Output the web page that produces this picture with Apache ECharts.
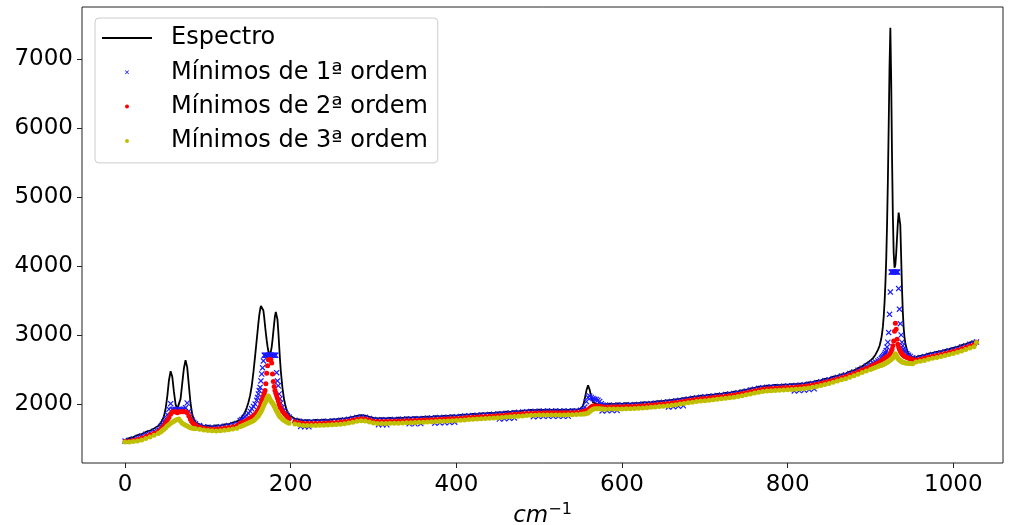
<!DOCTYPE html>
<html>
<head>
<meta charset="utf-8">
<script src="https://cdn.jsdelivr.net/npm/echarts@6/dist/echarts.min.js"></script>
<style>
  html, body { margin: 0; padding: 0; background: #ffffff; }
  #chart { width: 1014px; height: 525px; }
</style>
</head>
<body>
<div id="chart"></div>
<script>
// Wavenumber positions (cm^-1) shared by the spectrum and the three minima traces
const waveNumbers = [
  0,5,10,15,20,25,30,35,40,
  43,45,47,49,51,53,55,57,59,61,63,65,67,69,71,73,75,77,79,81,83,85,
  90,95,100,105,110,115,120,125,130,135,
  139,141,143,145,147,149,151,153,155,157,159,
  160,161,162,163,164,165,166,167,168,169,170,171,172,173,174,175,176,177,178,179,180,181,182,183,184,185,186,187,188,
  190,192,194,196,198,
  205,210,215,220,225,230,235,240,245,250,
  255,260,265,270,275,280,285,290,295,300,
  305,310,315,320,325,330,335,340,345,350,
  355,360,365,370,375,380,385,390,395,400,
  405,410,415,420,425,430,435,440,445,450,
  455,460,465,470,475,480,485,490,495,500,
  505,510,515,520,525,530,535,540,545,550,
  553,555,557,559,561,563,565,567,569,571,573,575,577,
  580,585,590,595,600,605,610,615,620,625,
  630,635,640,645,650,655,660,665,670,675,
  680,685,690,695,700,705,710,715,720,725,
  730,735,740,745,750,755,760,765,770,775,
  780,785,790,795,800,805,810,815,820,825,
  830,835,840,845,850,855,860,865,870,875,
  880,885,890,895,900,
  903,906,909,911,
  913,914,915,916,917,918,919,920,921,922,
  923,924,925,926,927,928,929,930,931,932,
  933,934,935,936,937,938,939,940,941,942,
  944,946,948,951,
  955,960,965,970,975,980,985,990,995,1000,1005,1010,1015,1020,1025,1028
];

// Measured spectrum intensity
const spectrum = [
  1485,1510,1525,1555,1570,1600,1618,1650,1685,
  1730,1770,1830,1940,2120,2350,2480,2400,2180,2000,1935,1960,2080,2300,2520,2640,2540,2280,2020,1860,1780,1740,
  1712,1688,1690,1680,1695,1692,1710,1712,1735,1752,
  1785,1812,1848,1893,1955,2030,2130,2270,2470,2700,2940,
  3060,3180,3290,3370,3425,3445,3420,3360,3260,3140,3030,2930,2840,2770,2735,2730,2765,2830,2930,3050,3170,3280,3340,3330,3230,3060,2860,2660,2490,
  2240,2070,1960,1890,1845,
  1790,1782,1768,1772,1765,1774,1770,1778,1772,1783,
  1786,1792,1797,1808,1820,1834,1842,1836,1818,1805,
  1796,1800,1795,1803,1798,1808,1804,1812,1808,1814,
  1810,1818,1822,1820,1830,1826,1834,1832,1840,1838,
  1848,1852,1850,1862,1858,1870,1868,1876,1872,1884,
  1882,1893,1890,1902,1898,1910,1912,1918,1915,1922,
  1918,1925,1920,1924,1918,1923,1920,1926,1924,1940,
  1980,2080,2200,2275,2210,2090,2030,2010,2005,2000,2003,1998,2002,
  2002,2010,2004,2013,2007,2016,2009,2019,2018,2027,
  2029,2031,2038,2045,2050,2058,2063,2071,2078,2091,
  2098,2108,2115,2125,2128,2138,2139,2151,2153,2165,
  2168,2183,2188,2204,2212,2232,2240,2258,2260,2273,
  2270,2281,2278,2287,2286,2293,2293,2301,2303,2318,
  2323,2341,2348,2368,2378,2401,2412,2436,2447,2476,
  2492,2526,2552,2594,2635,
  2670,2720,2790,2850,
  2950,3030,3130,3280,3480,3750,4100,4600,5250,6050,
  6900,7460,6700,5600,4750,4200,3980,4020,4180,4400,
  4620,4780,4800,4600,4150,3700,3350,3120,2980,2890,
  2790,2740,2710,2680,
  2685,2702,2712,2735,2748,2762,2770,2788,2800,2818,2835,2858,2875,2900,2912,2930
];

// First-order minima
const minima1 = [
  1468,1480,1498,1520,1542,1565,1588,1612,1640,
  1680,1710,1745,1790,1850,1930,2010,1925,1925,1925,1925,1925,1925,1925,1930,1950,2020,1900,1820,1770,1740,1720,
  1695,1675,1668,1665,1668,1675,1683,1692,1705,1722,
  1765,1780,1800,1820,1845,1870,1900,1935,1970,2005,2060,
  2100,2150,2200,2245,2340,2440,2530,2630,2712,2712,2712,2712,2712,2712,2712,2712,2712,2712,2712,2712,2712,2712,2712,2460,2340,2270,2150,2080,2020,
  1960,1910,1870,1840,1815,
  1770,1755,1748,1746,1746,1748,1750,1752,1755,1758,
  1763,1768,1775,1785,1798,1810,1818,1812,1795,1780,
  1776,1776,1777,1779,1780,1782,1784,1786,1788,1790,
  1793,1796,1799,1802,1805,1808,1811,1814,1817,1820,
  1825,1830,1834,1838,1842,1846,1850,1854,1857,1861,
  1865,1870,1875,1880,1884,1888,1892,1896,1898,1900,
  1901,1902,1902,1902,1902,1902,1903,1905,1908,1915,
  1925,1960,2040,2100,2120,2100,2085,2075,2070,2060,2040,2010,1990,
  1985,1986,1987,1988,1989,1991,1993,1996,1999,2003,
  2007,2012,2017,2023,2029,2036,2043,2050,2059,2068,
  2078,2087,2096,2103,2109,2115,2121,2128,2135,2142,
  2150,2159,2169,2180,2193,2207,2220,2232,2241,2248,
  2253,2257,2260,2263,2266,2269,2273,2278,2284,2293,
  2303,2315,2328,2342,2357,2374,2392,2410,2428,2448,
  2470,2495,2525,2555,2585,
  2600,2615,2630,2648,
  2665,2678,2690,2705,2725,2750,2780,2830,2900,3040,
  3305,3627,3918,3918,3918,3918,3918,3918,3918,3918,
  3918,3678,3380,3170,3005,2900,2848,2800,2775,2755,
  2730,2712,2695,2675,
  2668,2680,2692,2708,2722,2735,2748,2762,2776,2792,2810,2830,2850,2872,2890,2905
];

// Isolated first-order minima lying below the main band
const minima1LowX = [212,217,222,306,311,316,343,350,357,374,380,386,392,398,452,458,464,470,
  493,499,505,511,517,523,529,535,576,582,588,594,656,662,668,674,808,814,820,826,832];
const minima1LowY = [1680,1676,1674,1705,1704,1704,1718,1718,1722,1728,1732,1735,1738,1742,1788,1792,1798,1803,
  1822,1825,1826,1827,1827,1827,1827,1828,1905,1908,1910,1912,1960,1966,1974,1980,2195,2200,2206,2214,2225];

// Second-order minima
const minima2 = [
  1460,1465,1475,1492,1512,1535,1558,1582,1608,
  1635,1660,1690,1725,1765,1810,1855,1890,1893,1893,1880,1893,1893,1893,1893,1893,1880,1830,1780,1740,1715,1700,
  1672,1655,1645,1640,1642,1648,1656,1665,1676,1692,
  1725,1735,1745,1757,1770,1785,1800,1815,1830,1858,1885,
  1900,1920,1940,1960,2005,2050,2085,2120,2160,2200,2300,2450,2560,2645,2645,2645,2645,2600,2440,2330,2260,2200,2160,2125,2090,2050,2000,1960,1940,
  1900,1870,1845,1815,1790,
  1748,1733,1725,1722,1722,1724,1726,1728,1731,1734,
  1738,1743,1750,1760,1772,1785,1793,1788,1772,1757,
  1752,1752,1753,1755,1756,1758,1760,1762,1764,1766,
  1769,1772,1775,1778,1781,1784,1787,1790,1793,1796,
  1800,1805,1809,1813,1817,1821,1825,1829,1832,1836,
  1840,1845,1850,1855,1859,1863,1867,1871,1873,1875,
  1876,1877,1877,1877,1877,1877,1878,1880,1883,1888,
  1895,1900,1910,1925,1945,1965,1975,1975,1975,1970,1968,1965,1963,
  1962,1963,1964,1965,1966,1968,1970,1973,1976,1980,
  1984,1989,1994,2000,2006,2013,2020,2027,2036,2045,
  2055,2064,2073,2080,2086,2092,2098,2105,2112,2119,
  2127,2136,2146,2157,2170,2184,2197,2209,2218,2225,
  2230,2234,2237,2240,2243,2246,2250,2255,2261,2270,
  2280,2292,2305,2319,2334,2351,2369,2387,2405,2425,
  2447,2472,2500,2525,2550,
  2568,2585,2600,2615,
  2630,2638,2645,2655,2665,2675,2685,2692,2698,2705,
  2720,2740,2765,2800,2850,2920,3060,3175,3090,2945,
  2870,2830,2800,2775,2752,2735,2720,2708,2698,2690,
  2678,2668,2660,2650,
  2643,2655,2667,2683,2697,2710,2723,2737,2751,2767,2785,2805,2825,2847,2865,2900
];

// Third-order minima
const minima3 = [
  1455,1455,1460,1470,1485,1505,1528,1552,1578,
  1600,1620,1640,1662,1685,1705,1725,1742,1755,1768,1782,1788,1755,1728,1712,1698,1685,1672,1662,1655,1650,1646,
  1640,1630,1622,1616,1615,1618,1625,1633,1643,1655,
  1680,1688,1697,1707,1718,1730,1742,1753,1763,1785,1808,
  1820,1835,1855,1875,1898,1920,1945,1975,2000,2025,2050,2080,2105,2122,2100,2075,2050,2035,2020,2002,1975,1950,1925,1905,1882,1860,1840,1822,1808,
  1785,1765,1750,1738,1728,
  1715,1703,1695,1692,1692,1694,1696,1698,1701,1704,
  1708,1713,1720,1730,1742,1754,1762,1758,1745,1730,
  1724,1722,1723,1725,1726,1728,1730,1732,1734,1736,
  1739,1742,1745,1748,1751,1754,1757,1760,1763,1766,
  1770,1775,1779,1783,1787,1791,1795,1799,1802,1806,
  1810,1815,1820,1825,1829,1833,1837,1841,1843,1845,
  1846,1847,1847,1847,1847,1847,1848,1850,1852,1856,
  1860,1862,1866,1875,1895,1915,1930,1935,1935,1935,1935,1934,1933,
  1930,1931,1932,1933,1934,1936,1938,1941,1944,1948,
  1952,1957,1962,1968,1974,1981,1988,1995,2004,2013,
  2023,2032,2041,2048,2054,2060,2066,2073,2080,2087,
  2095,2104,2114,2125,2138,2152,2165,2177,2186,2193,
  2198,2202,2205,2208,2211,2214,2218,2223,2229,2238,
  2248,2260,2273,2287,2302,2319,2337,2355,2373,2393,
  2415,2438,2462,2485,2505,
  2520,2535,2550,2558,
  2567,2572,2577,2583,2589,2595,2602,2609,2617,2625,
  2634,2643,2653,2664,2677,2692,2710,2732,2715,2690,
  2670,2655,2643,2633,2625,2618,2612,2607,2603,2600,
  2596,2593,2591,2590,
  2613,2625,2637,2653,2667,2680,2693,2707,2721,2737,2755,2775,2795,2817,2835,2895
];

const xTicks = [0, 200, 400, 600, 800, 1000];
const yTicks = [2000, 3000, 4000, 5000, 6000, 7000];

const seriesNames = ['Espectro', 'Mínimos de 1ª ordem', 'Mínimos de 2ª ordem', 'Mínimos de 3ª ordem'];

function pairs(xs, ys) {
  return xs.map(function (x, i) { return [x, ys[i]]; });
}

const FONT = 'DejaVu Sans';
const CROSS = 'path://M0,1.4L1.4,0L5,3.6L8.6,0L10,1.4L6.4,5L10,8.6L8.6,10L5,6.4L1.4,10L0,8.6L3.6,5Z';
const plainNumber = function (v) { return String(Math.round(v)); };

const chart = echarts.init(document.getElementById('chart'), null, { renderer: 'canvas' });

chart.setOption({
  animation: false,
  backgroundColor: '#ffffff',
  textStyle: { fontFamily: FONT },
  grid: {
    left: 82, right: 11, top: 7, bottom: 62,
    show: true, borderColor: '#222', borderWidth: 1,
    outerBoundsMode: 'none'
  },
  xAxis: {
    type: 'value', min: -52, max: 1060,
    axisLine: { show: false, onZero: false },
    splitLine: { show: false },
    axisTick: { show: true, length: 5, customValues: xTicks, lineStyle: { color: '#222' } },
    axisLabel: { customValues: xTicks, formatter: plainNumber, fontSize: 23, color: '#000', margin: 11, fontFamily: FONT },
    name: '{it|cm}{sup|−1}',
    nameLocation: 'middle',
    nameGap: 32,
    nameTextStyle: {
      color: '#000',
      rich: {
        it: { fontSize: 23, fontStyle: 'italic', fontFamily: FONT, color: '#000', lineHeight: 28 },
        sup: { fontSize: 16, fontFamily: FONT, color: '#000', lineHeight: 14, verticalAlign: 'top' }
      }
    }
  },
  yAxis: {
    type: 'value', min: 1150, max: 7760,
    axisLine: { show: false, onZero: false },
    splitLine: { show: false },
    axisTick: { show: true, length: 5, customValues: yTicks, lineStyle: { color: '#222' } },
    axisLabel: { customValues: yTicks, formatter: plainNumber, fontSize: 23, color: '#000', margin: 9, fontFamily: FONT }
  },
  legend: {
    orient: 'vertical',
    left: 95, top: 18,
    padding: [7, 10, 9, 7],
    backgroundColor: 'rgba(255,255,255,0.8)',
    borderColor: '#cccccc', borderWidth: 1, borderRadius: 4,
    itemWidth: 50, itemHeight: 4, itemGap: 8.3,
    textStyle: { fontSize: 24, color: '#000', lineHeight: 26, padding: [0, 0, 0, 14], fontFamily: FONT },
    data: [
      { name: seriesNames[0], icon: 'path://M0,0H50V1.8H0Z' },
      { name: seriesNames[1] },
      { name: seriesNames[2] },
      { name: seriesNames[3] }
    ]
  },
  series: [
    {
      name: seriesNames[0], type: 'line',
      data: pairs(waveNumbers, spectrum),
      symbol: 'none', showSymbol: false,
      lineStyle: { color: '#000', width: 1.8 },
      itemStyle: { color: '#000' },
      z: 2
    },
    {
      name: seriesNames[1], type: 'scatter',
      data: pairs(waveNumbers, minima1).concat(pairs(minima1LowX, minima1LowY)),
      symbol: CROSS, symbolSize: 6,
      itemStyle: { color: '#1a1aff', opacity: 1 },
      z: 3
    },
    {
      name: seriesNames[2], type: 'scatter',
      data: pairs(waveNumbers, minima2),
      symbol: 'circle', symbolSize: 5,
      itemStyle: { color: '#ff0000', opacity: 1 },
      z: 4
    },
    {
      name: seriesNames[3], type: 'scatter',
      data: pairs(waveNumbers, minima3),
      symbol: 'circle', symbolSize: 5,
      itemStyle: { color: '#bfbf00', opacity: 1 },
      z: 5
    }
  ]
});
</script>
</body>
</html>
